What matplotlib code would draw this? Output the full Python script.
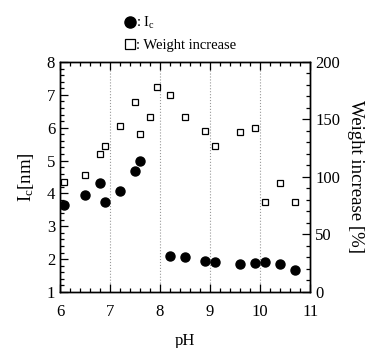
import numpy as np
import matplotlib
matplotlib.use("Agg")
import matplotlib.pyplot as plt
from matplotlib.lines import Line2D
from matplotlib.ticker import MultipleLocator

plt.rcParams['font.family'] = ['Liberation Serif', 'DejaVu Serif']
plt.rcParams['mathtext.default'] = 'regular'

# pH des mesures
ph_ic = [6.08, 6.5, 6.79, 6.89, 7.2, 7.5, 7.6, 8.19, 8.5, 8.89, 9.1, 9.6, 9.9, 10.1, 10.4, 10.7]
ic_nm = [3.65, 3.96, 4.31, 3.75, 4.08, 4.67, 5.0, 2.08, 2.06, 1.93, 1.9, 1.86, 1.88, 1.91, 1.85, 1.66]

ph_w = [6.08, 6.5, 6.79, 6.89, 7.2, 7.5, 7.6, 7.8, 7.93, 8.2, 8.5, 8.9, 9.1, 9.6, 9.9, 10.1, 10.4, 10.7]
weight = [96, 102, 120, 127, 144, 165, 137, 152, 178, 171, 152, 140, 127, 139, 143, 78, 95, 78]

fig = plt.figure(figsize=(3.75, 3.48), dpi=100)
ax = fig.add_axes([0.16, 0.161, 0.667, 0.661])
ax2 = ax.twinx()

ax.plot(ph_ic, ic_nm, 'o', color='black', markersize=6.5, zorder=3)
ax2.plot(ph_w, weight, 's', mfc='white', mec='black', mew=0.9, markersize=4.3, zorder=3)

ax.set_xlim(6, 11)
ax.set_ylim(1, 8)
ax2.set_ylim(0, 200)

ax.xaxis.set_major_locator(MultipleLocator(1))
ax.xaxis.set_minor_locator(MultipleLocator(0.2))
ax.yaxis.set_major_locator(MultipleLocator(1))
ax.yaxis.set_minor_locator(MultipleLocator(0.2))
ax2.yaxis.set_major_locator(MultipleLocator(50))
ax2.yaxis.set_minor_locator(MultipleLocator(10))

ax.tick_params(which='both', direction='in', top=True, labelsize=12, width=0.9)
ax.tick_params(which='major', length=6)
ax.tick_params(which='minor', length=3)
ax.tick_params(axis='x', which='major', pad=9)
ax2.tick_params(which='both', direction='in', labelsize=12, width=0.9)
ax2.tick_params(which='major', length=6)
ax2.tick_params(which='minor', length=3)

# lignes verticales pointillées
ax.grid(True, axis='x', which='major', linestyle=':', color='#999999', linewidth=0.8)
ax.set_axisbelow(True)

for a in (ax, ax2):
    for s in a.spines.values():
        s.set_linewidth(1.0)

ax.set_xlabel("pH", fontsize=12, labelpad=9)
ax.set_ylabel("$I_c$[nm]", fontsize=13.5, labelpad=8)
ax2.set_ylabel("Weight increase [%]", fontsize=13.5, rotation=270, labelpad=17)

handles = [Line2D([], [], marker='o', ls='', color='black', markersize=8),
           Line2D([], [], marker='s', ls='', mfc='white', mec='black', mew=0.9, markersize=7.5)]
fig.legend(handles, [": $I_c$", ": Weight increase"], loc='upper left',
           bbox_to_anchor=(0.305, 0.99), frameon=False, fontsize=10.5,
           handlelength=0.6, handletextpad=0.1, labelspacing=0.55, borderpad=0.3)

fig.savefig("out.png", dpi=100)
